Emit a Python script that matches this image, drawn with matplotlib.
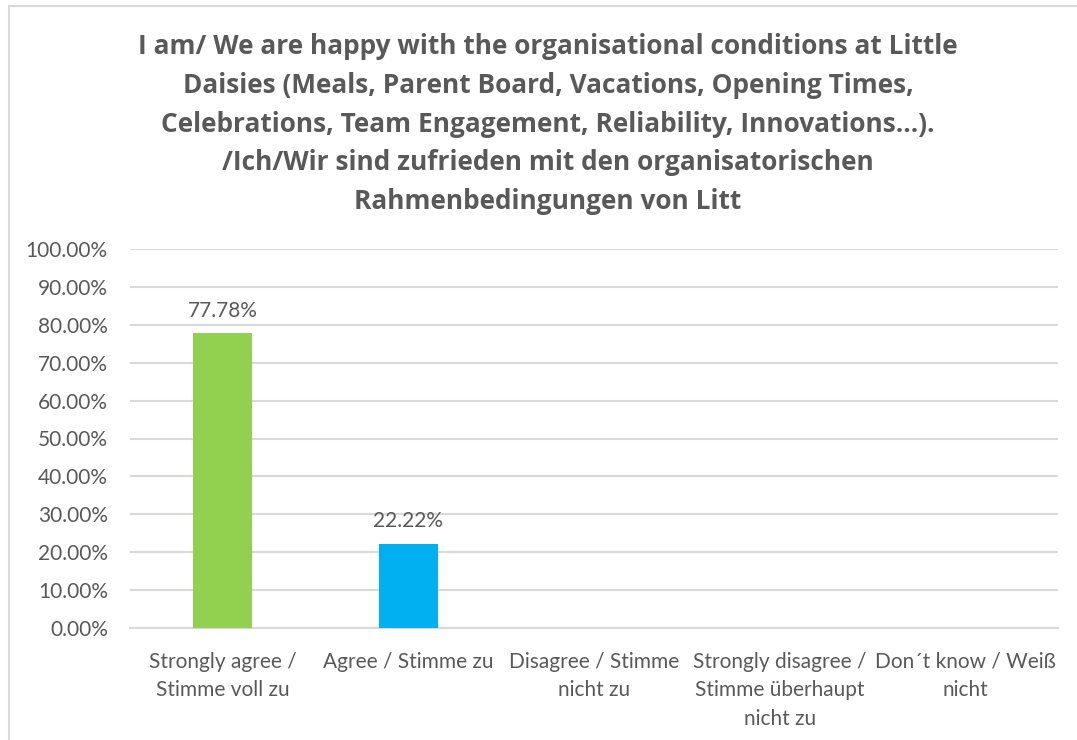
import matplotlib
matplotlib.use("Agg")
import matplotlib.pyplot as plt
from matplotlib.patches import Rectangle
from matplotlib.ticker import FuncFormatter

categories = ["Strongly agree /\nStimme voll zu", "Agree / Stimme zu",
              "Disagree / Stimme\nnicht zu",
              "Strongly disagree /\nStimme überhaupt\nnicht zu",
              "Don´t know / Weiß\nnicht"]
values = [0.7778, 0.2222, 0.0, 0.0, 0.0]
labels = ["77.78%", "22.22%", None, None, None]
colors = ["#92D050", "#00B0F0", "#92D050", "#92D050", "#92D050"]
title = ("I am/ We are happy with the organisational conditions at Little\n"
         "Daisies (Meals, Parent Board, Vacations, Opening Times,\n"
         "Celebrations, Team Engagement, Reliability, Innovations…).\n"
         "/Ich/Wir sind zufrieden mit den organisatorischen\n"
         "Rahmenbedingungen von Litt")

plt.rcParams['font.family'] = ['Lato', 'DejaVu Sans']
gray = "#595959"

fig = plt.figure(figsize=(10.77, 7.4), dpi=100)
fig.patches.append(Rectangle((9/1077, -0.1), 1.2, 1 - 6/740 + 0.1, transform=fig.transFigure,
                             fill=False, edgecolor="#D9D9D9", linewidth=1.5))
ax = fig.add_axes([130/1077, 1 - 628/740, 928/1077, 379/740])

x = range(len(categories))
bars = ax.bar(x, values, width=0.32, color=colors, zorder=3)
for b, lab in zip(bars, labels):
    if lab:
        ax.text(b.get_x() + b.get_width()/2, b.get_height() + 0.033, lab,
                ha="center", va="bottom", fontsize=15, color=gray)

ax.set_xlim(-0.5, len(categories) - 0.5)
ax.set_ylim(0, 1.0)
ax.set_yticks([i/10 for i in range(11)])
ax.yaxis.set_major_formatter(FuncFormatter(lambda v, p: f"{v*100:.2f}%"))
ax.set_xticks(list(x))
ax.set_xticklabels(categories, fontsize=15, color=gray, linespacing=1.55)
ax.tick_params(axis="y", labelsize=15, labelcolor=gray, length=0, pad=16)
ax.tick_params(axis="x", length=0, pad=17)
ax.grid(axis="y", color="#D9D9D9", linewidth=1.5, zorder=0)
for s in ["top", "right", "left"]:
    ax.spines[s].set_visible(False)
ax.spines["bottom"].set_color("#D9D9D9")
ax.spines["bottom"].set_linewidth(1.5)

fig.text(548/1077, 1 - 33/740, title, ha="center", va="top", fontsize=18.9,
         fontweight="bold", color=gray, linespacing=1.56, family=['Open Sans', 'DejaVu Sans'])

fig.savefig("out.png", dpi=100)
